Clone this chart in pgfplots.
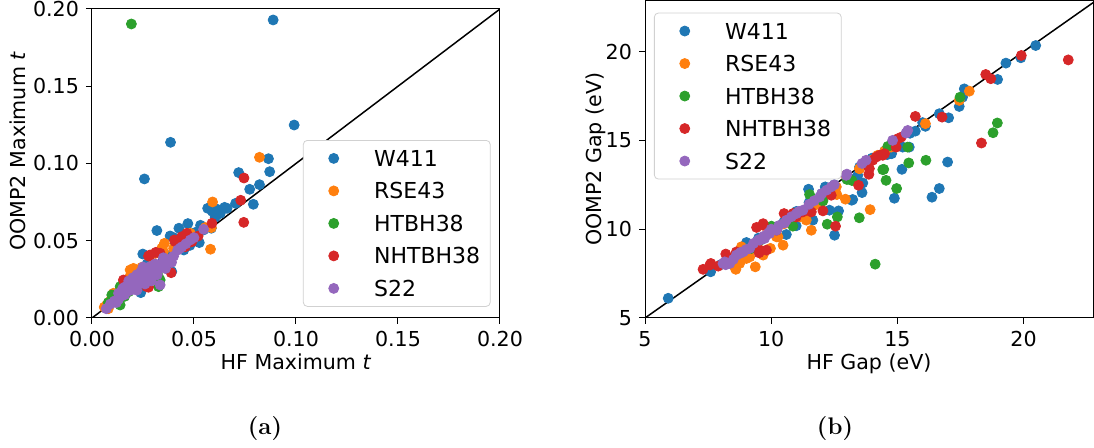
\documentclass[border=0pt]{standalone}
\usepackage{fontspec}
\usepackage{pgfplots}
\pgfplotsset{compat=1.18}
\newfontfamily\dejavu{DejaVu Sans}
\definecolor{cA}{HTML}{1F77B4}
\definecolor{cB}{HTML}{FF7F0E}
\definecolor{cC}{HTML}{2CA02C}
\definecolor{cD}{HTML}{D62728}
\definecolor{cE}{HTML}{9467BD}
\pgfplotsset{
  myaxis/.style={
    scale only axis,
    axis line style={black, line width=0.5pt},
    tick style={black, line width=0.5pt},
    tick align=outside,
    major tick length=3pt,
    xtick pos=bottom, ytick pos=left,
    ticklabel style={font=\dejavu\fontsize{10.3}{12}\selectfont},
    /pgf/number format/assume math mode=true,
    label style={font=\dejavu\fontsize{10.3}{12}\selectfont},
    xlabel style={at={(axis description cs:0.5,0)}, anchor=base, yshift=-26pt},
    legend cell align=left,
    legend image code/.code={\path (0pt,-2pt) (30pt,2pt); \draw[##1] plot coordinates {(10pt,0pt)};},
    legend style={draw=black!18, rounded corners=2pt, fill=white,
      inner xsep=5pt, inner ysep=5pt, row sep=8.25pt,
      font=\dejavu\fontsize{11}{13}\selectfont,
      nodes={inner sep=0pt, text height=8pt, text depth=0pt}},
  },
  sc/.style={only marks, mark=*, mark size=2.5pt, color=#1, mark options={draw=none, fill=#1}},
}
\begin{document}
\begin{tikzpicture}
\path[use as bounding box] (0pt,0pt) rectangle (547pt,224pt);
\begin{axis}[myaxis,
  at={(46pt,65pt)}, anchor=south west,
  width=204pt, height=154.5pt,
  xmin=0, xmax=0.2, ymin=0, ymax=0.2,
  xtick={0,0.05,0.1,0.15,0.2}, ytick={0,0.05,0.1,0.15,0.2},
  /pgf/number format/.cd, fixed, fixed zerofill, precision=2, /pgfplots/.cd,
  xlabel={HF Maximum \textit{t}},
  ylabel={OOMP2 Maximum \textit{t}},
  ylabel style={at={(axis description cs:-0.164,0.54)}, anchor=base},
  legend style={at={(0.517,0.576)}, anchor=north west},
]
\addplot[sc=cA] coordinates {
(0.0888,0.1929) (0.0991,0.1249) (0.0385,0.1137) (0.0257,0.0900) (0.0865,0.1031)
(0.0871,0.0947) (0.0719,0.0941) (0.0821,0.0863) (0.0773,0.0833) (0.0791,0.0736)
(0.0704,0.0742) (0.0567,0.0710) (0.0613,0.0704) (0.0650,0.0716) (0.0662,0.0710)
(0.0629,0.0677) (0.0604,0.0652) (0.0590,0.0690) (0.0470,0.0611) (0.0426,0.0581)
(0.0318,0.0566) (0.0532,0.0600) (0.0509,0.0555) (0.0383,0.0531) (0.0400,0.0520)
(0.0430,0.0500) (0.0526,0.0488) (0.0249,0.0414) (0.0239,0.0164) (0.0370,0.0354)
(0.0390,0.0400) (0.0585,0.0581) (0.0547,0.0570) (0.0514,0.0526) (0.0450,0.0440)
(0.0480,0.0470) (0.0350,0.0380) (0.0300,0.0320) (0.0280,0.0300) (0.0250,0.0270)
(0.0220,0.0230) (0.0200,0.0200) (0.0180,0.0190) (0.0150,0.0160) (0.0120,0.0130)
(0.0100,0.0100) (0.0330,0.0340) (0.0410,0.0440) (0.0440,0.0480) (0.0360,0.0410)
(0.0270,0.0350) (0.0230,0.0290) (0.0408,0.0483) (0.0375,0.0343) (0.0391,0.0300)
};
\addlegendentry{W411}
\addplot[sc=cB] coordinates {
(0.0821,0.1040) (0.0591,0.0751) (0.0581,0.0445) (0.0585,0.0585) (0.0482,0.0548)
(0.0555,0.0585) (0.0355,0.0483) (0.0342,0.0451) (0.0310,0.0418) (0.0203,0.0300)
(0.0187,0.0272) (0.0105,0.0160) (0.0072,0.0084) (0.0138,0.0181) (0.0187,0.0311)
(0.0203,0.0321) (0.0244,0.0328) (0.0350,0.0429) (0.0250,0.0300) (0.0280,0.0320)
(0.0300,0.0350) (0.0160,0.0220) (0.0120,0.0150) (0.0090,0.0110) (0.0220,0.0260)
(0.0400,0.0450) (0.0450,0.0520) (0.0060,0.0070) (0.0080,0.0060)
};
\addlegendentry{RSE43}
\addplot[sc=cC] coordinates {
(0.0193,0.1903) (0.0097,0.0149) (0.0138,0.0084) (0.0334,0.0246) (0.0326,0.0203)
(0.0236,0.0225) (0.0138,0.0203) (0.0326,0.0267) (0.0120,0.0120) (0.0180,0.0170)
(0.0220,0.0200) (0.0280,0.0260) (0.0300,0.0280) (0.0160,0.0140) (0.0080,0.0100)
(0.0250,0.0230) (0.0380,0.0370) (0.0154,0.0229)
};
\addlegendentry{HTBH38}
\addplot[sc=cD] coordinates {
(0.0745,0.0906) (0.0729,0.0762) (0.0744,0.0619) (0.0588,0.0613) (0.0388,0.0293)
(0.0408,0.0494) (0.0432,0.0505) (0.0457,0.0461) (0.0490,0.0494) (0.0404,0.0505)
(0.0465,0.0522) (0.0313,0.0425) (0.0277,0.0401) (0.0334,0.0419) (0.0154,0.0246)
(0.0154,0.0181) (0.0269,0.0203) (0.0285,0.0246) (0.0244,0.0246) (0.0269,0.0214)
(0.0300,0.0330) (0.0200,0.0230) (0.0350,0.0360) (0.0180,0.0200) (0.0520,0.0530)
(0.0285,0.0408) (0.0465,0.0548) (0.0440,0.0526) (0.0277,0.0199)
};
\addlegendentry{NHTBH38}
\addplot[sc=cE] coordinates {
(0.0547,0.0574) (0.0482,0.0505) (0.0432,0.0451) (0.0334,0.0214) (0.0070,0.0060)
(0.0090,0.0090) (0.0110,0.0110) (0.0130,0.0120) (0.0140,0.0140) (0.0160,0.0150)
(0.0170,0.0170) (0.0180,0.0190) (0.0190,0.0180) (0.0200,0.0210) (0.0210,0.0200)
(0.0220,0.0220) (0.0230,0.0240) (0.0240,0.0230) (0.0250,0.0260) (0.0260,0.0250)
(0.0270,0.0280) (0.0280,0.0270) (0.0290,0.0300) (0.0300,0.0290) (0.0310,0.0320)
(0.0320,0.0310) (0.0330,0.0340) (0.0340,0.0330) (0.0350,0.0360) (0.0360,0.0350)
(0.0380,0.0380) (0.0400,0.0400) (0.0420,0.0440) (0.0440,0.0460) (0.0460,0.0480)
(0.0500,0.0520) (0.0200,0.0260) (0.0220,0.0280) (0.0240,0.0300) (0.0260,0.0310)
(0.0280,0.0330) (0.0180,0.0240) (0.0300,0.0340) (0.0160,0.0200) (0.0250,0.0330)
(0.0150,0.0190) (0.0190,0.0230) (0.0230,0.0270) (0.0270,0.0310) (0.0310,0.0350)
(0.0350,0.0390) (0.0130,0.0160) (0.0290,0.0240) (0.0260,0.0220) (0.0220,0.0180)
(0.0360,0.0320) (0.0390,0.0360) (0.0120,0.0100) (0.0320,0.0280)
};
\addlegendentry{S22}
\addplot[black, line width=0.75pt, forget plot] coordinates {(0,0) (0.2,0.2)};
\end{axis}

\begin{axis}[myaxis,
  at={(322.5pt,65pt)}, anchor=south west,
  width=224pt, height=158.7pt,
  xmin=5, xmax=22.75, ymin=5, ymax=22.87,
  xtick={5,10,15,20}, ytick={5,10,15,20},
  xlabel={HF Gap (eV)},
  ylabel={OOMP2 Gap (eV)},
  ylabel style={at={(axis description cs:-0.098,0.5)}, anchor=base},
  legend style={at={(0.02,0.962)}, anchor=north west},
]
\addplot[sc=cA] coordinates {
(5.92,6.11) (20.48,20.34) (19.89,19.65) (19.30,19.35) (18.97,18.43) (17.65,17.90)
(17.58,17.43) (17.45,16.91) (17.03,16.27) (16.66,16.50) (16.99,13.78) (16.66,12.29)
(16.37,11.80) (14.88,11.74) (15.18,13.37) (16.11,15.79) (15.71,15.52) (15.47,14.62)
(15.21,14.62) (14.77,14.25) (13.60,12.06) (13.56,12.57) (13.19,11.63) (12.67,11.03)
(12.51,9.66) (12.31,11.07) (12.14,12.38) (11.48,12.25) (11.65,10.51) (10.99,10.19)
(10.60,9.70) (9.02,9.25) (7.50,7.70) (13.43,13.03) (14.02,13.97) (7.60,7.60)
(8.00,8.00) (8.50,8.40) (9.00,9.00) (9.50,9.50) (10.00,10.00) (10.50,10.40)
(11.00,11.00) (11.50,11.50) (12.00,12.00) (12.50,12.50) (13.00,13.00) (13.50,13.50)
(14.00,14.00) (14.50,14.40) (15.00,15.00) (15.50,15.40) (16.00,16.00) (12.50,12.20)
(13.20,12.80) (14.60,14.20) (11.20,10.80) (10.20,9.90) (13.23,11.67) (13.63,12.60)
};
\addlegendentry{W411}
\addplot[sc=cB] coordinates {
(17.85,17.77) (17.45,17.25) (16.11,15.94) (13.92,11.10) (12.94,11.69) (12.60,11.95)
(11.59,9.94) (10.47,9.10) (10.27,9.57) (9.97,8.92) (9.68,8.54) (9.37,7.88)
(9.15,8.44) (8.75,8.07) (8.58,7.79) (8.82,9.01) (9.02,8.54) (11.13,10.69)
(11.39,10.51) (11.72,11.35) (11.98,11.53) (12.58,12.38) (12.97,13.03) (13.50,13.41)
(14.22,14.16) (14.75,14.62) (8.60,7.74) (8.82,8.35) (9.02,8.35) (10.21,9.57)
(8.50,8.40) (9.00,8.80) (9.50,9.30) (10.00,9.80) (10.50,10.30) (11.00,10.80)
(11.50,11.30) (12.00,11.80) (12.50,12.30) (13.00,12.90) (13.50,13.40) (14.00,13.90)
(14.50,14.40) (10.80,10.50) (11.30,11.00) (12.30,12.00)
};
\addlegendentry{RSE43}
\addplot[sc=cC] coordinates {
(18.96,15.98) (18.79,15.43) (17.48,17.43) (16.13,13.88) (15.45,13.73) (15.41,14.62)
(14.97,12.29) (14.55,12.75) (14.46,13.37) (14.62,14.66) (14.12,8.03) (13.49,10.64)
(12.62,10.69) (12.22,10.28) (12.05,11.59) (11.52,11.95) (10.86,10.17) (13.20,12.74)
(14.42,13.35) (10.01,10.17) (9.22,8.92) (11.00,10.90) (12.30,12.20) (13.00,12.80)
(9.60,9.40)
};
\addlegendentry{HTBH38}
\addplot[sc=cD] coordinates {
(21.77,19.53) (19.91,19.78) (18.50,18.71) (18.70,18.47) (18.33,14.85) (16.77,16.31)
(15.71,16.35) (14.95,14.62) (15.01,15.09) (15.15,15.18) (14.29,14.16) (14.02,13.88)
(13.87,13.09) (13.46,12.47) (12.38,11.91) (12.05,11.03) (12.55,10.17) (11.59,10.97)
(10.51,10.88) (10.21,9.94) (9.68,10.22) (9.42,10.10) (9.81,8.82) (9.52,8.67)
(8.62,8.72) (8.20,8.60) (7.57,7.98) (7.30,7.74) (13.89,13.41) (14.49,14.25)
(10.86,10.88) (10.99,10.69) (11.25,10.97) (14.16,14.06) (14.42,14.16) (7.61,8.07)
(7.90,7.92) (9.68,10.31) (9.55,8.82)
};
\addlegendentry{NHTBH38}
\addplot[sc=cE] coordinates {
(8.09,8.07) (8.36,8.07) (8.75,8.63) (9.15,8.92) (9.55,9.38) (9.94,9.76)
(10.21,9.94) (10.53,10.35) (11.00,10.88) (11.26,11.07) (11.92,11.81) (12.38,12.38)
(12.97,13.03) (13.76,13.88) (14.81,15.00) (15.34,15.41) (15.41,15.56) (8.20,8.00)
(8.50,8.30) (8.80,8.70) (9.00,8.85) (9.30,9.20) (9.50,9.40) (9.70,9.60)
(9.90,9.80) (10.00,10.00) (10.30,10.20) (10.60,10.50) (10.80,10.70) (11.10,11.00)
(11.50,11.40) (11.70,11.60) (12.00,12.00) (12.20,12.20) (12.50,12.50) (13.00,13.10)
(13.60,13.70) (8.16,8.16) (8.62,8.54) (8.89,8.72) (9.74,9.48)
};
\addlegendentry{S22}
\addplot[black, line width=0.75pt, forget plot] coordinates {(5,5) (23,23)};
\end{axis}
\node[font=\bfseries\fontsize{12}{14}\selectfont, anchor=base] at (132.5pt,6.5pt) {(a)};
\node[font=\bfseries\fontsize{12}{14}\selectfont, anchor=base] at (417.5pt,6.5pt) {(b)};
\end{tikzpicture}
\end{document}
